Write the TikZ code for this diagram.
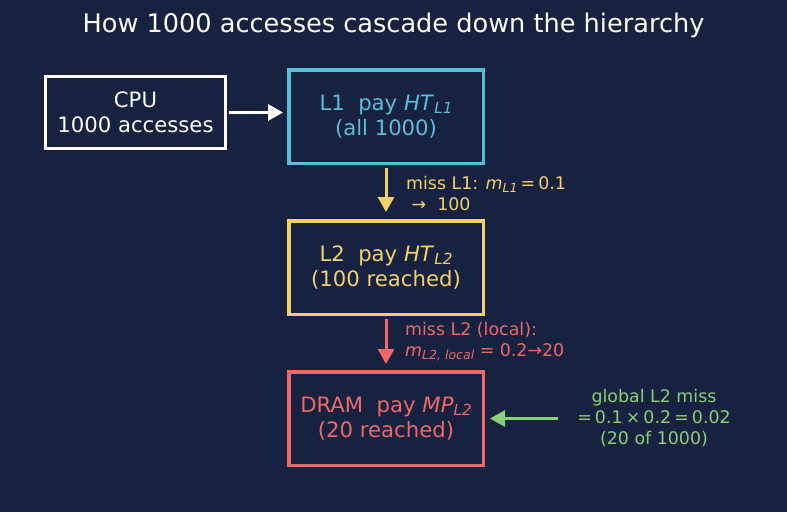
\documentclass[tikz,border=0pt]{standalone}
\usepackage{fontspec}
\setmainfont{DejaVu Sans}
\usepackage{xcolor}
\usepackage{tikz}
\usetikzlibrary{positioning,arrows.meta,calc}
\definecolor{navybg}{RGB}{23,33,64}
\definecolor{cacheblue}{RGB}{88,190,216}
\definecolor{cacheyellow}{RGB}{242,208,107}
\definecolor{cachered}{RGB}{238,104,104}
\definecolor{missgreen}{RGB}{134,208,120}
\newcommand{\lsub}[1]{\raisebox{-0.3ex}{\scalebox{0.72}{\itshape #1}}}
\newcommand{\msp}{\hspace{0.18em}}
\tikzset{
  cpubox/.style={draw=white, line width=3pt, text=white, align=center, minimum width=180pt, minimum height=72pt, font=\fontsize{21.2}{25}\selectfont},
  lvlbox/.style={line width=3.5pt, align=center, minimum width=194.5pt, minimum height=93.5pt, font=\fontsize{21.2}{25}\selectfont},
  note/.style={align=left, inner sep=2pt, font=\fontsize{17.4}{21}\selectfont},
  arr/.style={-{Triangle[length=15pt,width=16pt]}, line width=3pt},
}
\begin{document}
\begin{tikzpicture}[x=1pt,y=1pt]
    \fill[navybg] (0,0) rectangle (787,-512);
    \useasboundingbox (0,0) rectangle (787,-512);
    \node[text=white, font=\fontsize{25.6}{30}\selectfont] (title) at (393.5,-25) {How 1000 accesses cascade down the hierarchy};
    \node[cpubox] (cpu) at (135.5,-112.5) {CPU\\1000 accesses};
    \node[lvlbox, draw=cacheblue, text=cacheblue] (l1) at (386,-116.5) {L1\ \ pay \textit{HT}\lsub{L1}\\(all 1000)};
    \node[lvlbox, draw=cacheyellow, text=cacheyellow, below=54pt of l1] (l2) {L2\ \ pay \textit{HT}\lsub{L2}\\(100 reached)};
    \node[lvlbox, draw=cachered, text=cachered, below=54pt of l2] (dram) {DRAM\ \ pay \textit{MP}\lsub{L2}\\(20 reached)};
    \draw[arr, draw=white, fill=white, shorten <=2pt, shorten >=4pt] (cpu.east) -- (cpu.east -| l1.west);
    \draw[arr, draw=cacheyellow, fill=cacheyellow, shorten <=3pt, shorten >=7pt] (l1) -- (l2);
    \node[note, anchor=west, text=cacheyellow] (miss1) at ([xshift=18pt,yshift=-1.5pt]$(l1.south)!0.5!(l2.north)$) {miss L1: \textit{m}\lsub{L1}\msp=\msp0.1\\\ →\ \ 100};
    \draw[arr, draw=cachered, fill=cachered, shorten <=3pt, shorten >=6pt] (l2) -- (dram);
    \node[note, anchor=west, text=cachered] (miss2) at ([xshift=17pt,yshift=1.5pt]$(l2.south)!0.5!(dram.north)$) {miss L2 (local):\\\textit{m}\lsub{L2, local} = 0.2→20};
    \node[note, align=center, text=missgreen] (glob) at (654,-418) {global L2 miss\\=\msp0.1\msp×\msp0.2\msp=\msp0.02\\(20 of 1000)};
    \draw[arr, draw=missgreen, fill=missgreen, line width=2.5pt, shorten <=17pt, shorten >=5pt] (glob.west |- dram.east) -- (dram.east);
  \end{tikzpicture}
\end{document}
